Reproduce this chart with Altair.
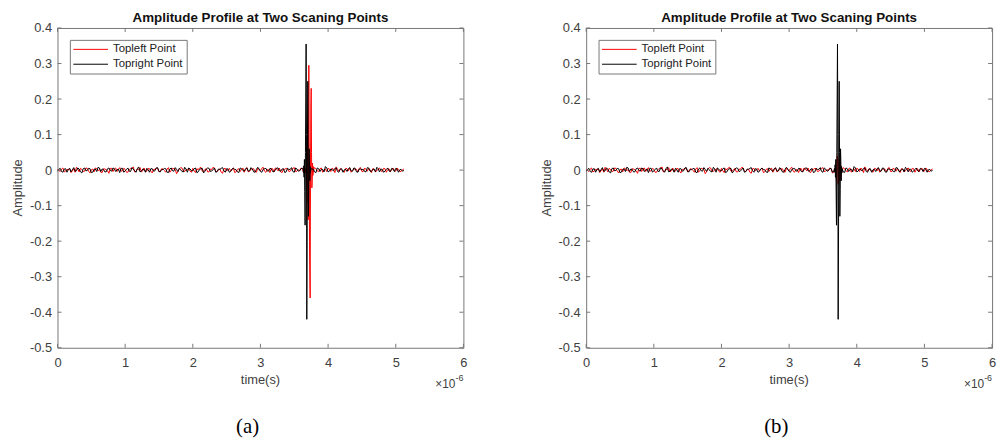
import altair as alt
import pandas as pd
import numpy as np

# ---------------- data ----------------
SERIES = ["Topleft Point", "Topright Point"]
COLORS = ["#ff0000", "#000000"]
TITLE = "Amplitude Profile at Two Scaning Points"
CAPTIONS = ["(a)", "(b)"]
X_TICKS = [0, 1, 2, 3, 4, 5, 6]
Y_TICKS = [-0.5, -0.4, -0.3, -0.2, -0.1, 0, 0.1, 0.2, 0.3, 0.4]

NOISE_STEP = 0.02   # time step of background samples (x 1e-6 s)
BURST_STEP = 0.005  # time step of burst samples (x 1e-6 s)

# background samples at even grid points
RED_NOISE = [
    0.002, -0.004, 0.006, -0.003, 0.001, -0.007, 0.004, 0.008, -0.005, 0.002,
    -0.003, 0.005, -0.008, 0.003, 0.006, -0.002, -0.006, 0.004, 0.001, -0.009,
    0.005, 0.003, -0.004, 0.007, -0.002, 0.002, -0.006, 0.005, 0.009, -0.004,
    0.001, -0.005, 0.006, -0.003, 0.004, -0.008, 0.002, 0.005, -0.002, 0.003,
    -0.006, 0.007, -0.001, 0.004, -0.010, 0.003, 0.006, -0.004, 0.002, -0.003,
    0.005, -0.007, 0.001, 0.008, -0.003, 0.004, -0.005, 0.002, 0.006, -0.004,
    0.003, -0.009, 0.005, 0.001, -0.002, 0.006, -0.005, 0.004, 0.002, -0.006,
    0.007, -0.003, 0.003, -0.004, 0.005, -0.002, 0.008, -0.006, 0.001, 0.004,
    -0.005, 0.003, 0.006, -0.007, 0.002, 0.004, -0.003, 0.005, -0.004, 0.001,
    0.006, -0.008, 0.003, 0.002, -0.005, 0.007, -0.002, 0.004, -0.006, 0.003,
    0.005, -0.004, 0.002, 0.009, -0.003, 0.001, -0.006, 0.004, 0.006, -0.002,
    0.003, -0.005, 0.007, -0.004, 0.002, 0.005, -0.007, 0.003, -0.002, 0.006,
    -0.004, 0.004, 0.001, -0.005, 0.006, -0.003, 0.002, -0.004, 0.003,
]
# background samples at odd grid points
RED_NOISE_MID = [
    -0.001, 0.003, -0.005, 0.002, 0.004, -0.002, -0.006, 0.003, 0.005, -0.004,
    0.006, -0.003, 0.001, -0.005, 0.004, 0.002, -0.007, 0.003, -0.002, 0.005,
    -0.004, 0.006, 0.002, -0.003, 0.005, -0.006, 0.001, 0.004, -0.005, 0.003,
    0.007, -0.002, -0.004, 0.005, -0.003, 0.002, 0.006, -0.005, 0.004, -0.001,
    0.003, -0.006, 0.005, 0.002, -0.004, 0.007, -0.003, 0.001, 0.005, -0.006,
    -0.002, 0.004, 0.006, -0.003, 0.002, -0.005, 0.003, 0.008, -0.004, 0.001,
    -0.006, 0.004, -0.002, 0.005, 0.003, -0.007, 0.002, -0.004, 0.006, 0.001,
    -0.005, 0.003, 0.004, -0.006, 0.002, 0.005, -0.003, 0.001, -0.007, 0.004,
    0.006, -0.002, -0.005, 0.003, 0.005, -0.004, 0.002, 0.007, -0.003, -0.001,
    0.004, -0.006, 0.002, 0.005, -0.003, 0.004, -0.005, 0.006, 0.001, -0.004,
    0.003, 0.006, -0.007, 0.002, 0.004, -0.003, 0.005, -0.002, -0.006, 0.003,
    0.002, 0.005, -0.004, 0.006, -0.003, 0.001, 0.004, -0.005, 0.003, -0.002,
    0.005, -0.006, 0.004, 0.002, -0.003, 0.006, -0.004, 0.001,
]
BLACK_NOISE = [
    -0.003, 0.005, -0.006, 0.004, 0.002, -0.005, 0.007, -0.002, 0.003, -0.008,
    0.006, -0.001, 0.004, -0.006, 0.003, 0.008, -0.004, 0.002, -0.005, 0.006,
    -0.003, 0.004, 0.001, -0.007, 0.005, -0.002, 0.006, -0.004, 0.003, -0.006,
    0.009, -0.003, 0.002, 0.005, -0.006, 0.004, -0.002, 0.007, -0.005, 0.001,
    0.004, -0.007, 0.006, -0.003, 0.002, 0.005, -0.004, 0.008, -0.006, 0.003,
    -0.002, 0.006, -0.005, 0.004, -0.008, 0.003, 0.005, -0.002, 0.006, -0.004,
    0.002, 0.007, -0.006, 0.003, -0.004, 0.005, 0.001, -0.007, 0.004, -0.003,
    0.006, -0.002, 0.003, -0.006, 0.008, -0.004, 0.002, 0.005, -0.003, 0.004,
    -0.005, 0.006, -0.002, 0.003, -0.007, 0.005, 0.002, -0.004, 0.006, -0.003,
    0.004, -0.006, 0.007, -0.002, 0.003, -0.005, 0.006, -0.004, 0.002, 0.010,
    -0.005, 0.003, -0.002, 0.006, -0.006, 0.004, 0.001, -0.004, 0.007, -0.003,
    0.005, -0.006, 0.003, 0.002, -0.005, 0.006, -0.004, 0.003, 0.008, -0.005,
    0.002, -0.003, 0.006, -0.004, 0.003, 0.005, -0.006, 0.002, -0.001,
]
BLACK_NOISE_MID = [
    0.002, -0.004, 0.003, -0.006, 0.005, 0.001, -0.003, 0.006, -0.005, 0.004,
    -0.002, 0.005, -0.007, 0.002, -0.004, 0.006, 0.003, -0.005, 0.004, -0.001,
    0.006, -0.004, 0.003, 0.005, -0.006, 0.002, -0.003, 0.007, -0.002, 0.004,
    -0.005, 0.003, -0.006, 0.001, 0.004, -0.003, 0.006, -0.004, 0.002, 0.005,
    -0.006, 0.003, -0.002, 0.007, -0.004, 0.001, -0.005, 0.003, 0.006, -0.002,
    0.004, -0.007, 0.002, 0.005, -0.003, 0.006, -0.004, 0.001, -0.006, 0.003,
    0.005, -0.002, 0.004, -0.006, 0.003, 0.002, -0.005, 0.006, -0.001, 0.004,
    -0.003, 0.007, -0.005, 0.002, 0.003, -0.006, 0.004, -0.002, 0.005, -0.004,
    0.001, 0.006, -0.003, 0.004, -0.005, 0.002, 0.007, -0.006, 0.003, -0.002,
    0.005, -0.004, 0.006, -0.001, 0.003, -0.007, 0.004, 0.002, -0.005, 0.006,
    -0.003, 0.001, 0.005, -0.004, 0.003, -0.006, 0.002, 0.004, -0.002, 0.006,
    -0.005, 0.003, 0.001, -0.004, 0.007, -0.003, 0.002, -0.005, 0.004, 0.003,
    -0.006, 0.002, -0.002, 0.005, -0.004, 0.003, 0.001, -0.003,
]

# panel (a)
A_RED_START = 3.670
A_RED_BURST = [0.004, -0.008, 0.015, -0.03, 0.06, -0.09, 0.12, -0.14, 0.10,
               0.295, 0.08, -0.20, -0.30, -0.36, 0.0, 0.18, 0.23, 0.05, -0.05,
               -0.03, 0.02, -0.015, 0.01, -0.006, 0.003]
A_BLACK_START = 3.630
A_BLACK_BURST = [0.004, -0.006, 0.012, -0.02, 0.03, -0.06, -0.155, 0.05, 0.20,
                 0.355, 0.10, -0.42, -0.20, 0.10, 0.25, 0.05, -0.13, -0.05,
                 0.06, 0.02, -0.03, 0.01, -0.008, 0.004]
# panel (b)
B_RED_START = 3.670
B_RED_BURST = [0.003, -0.004, 0.006, -0.008, 0.01, -0.015, -0.03, 0.01, 0.03,
               0.04, 0.01, -0.04, -0.02, 0.01, 0.03, 0.01, -0.03, -0.02, 0.015,
               0.006, -0.006, 0.004, -0.003]
B_BLACK_START = 3.670
B_BLACK_BURST = [0.004, -0.006, 0.015, -0.02, 0.03, -0.06, -0.155, 0.05, 0.20,
                 0.355, 0.10, -0.42, -0.20, 0.10, 0.25, 0.05, -0.13, -0.055,
                 0.06, 0.02, -0.03, 0.01, -0.008, 0.004]

# ---------------- style ----------------
W, H = 410, 323
FONT = "Liberation Sans"
TXT = "#404040"
BOX = "#777777"


def build(noise_even, noise_odd, start, burst):
    vals = []
    for i in range(len(noise_even)):
        vals.append(noise_even[i])
        if i < len(noise_odd):
            vals.append(noise_odd[i])
    v_noise = np.array(vals)
    t_noise = np.arange(len(v_noise)) * NOISE_STEP
    end = start + (len(burst) - 1) * BURST_STEP
    keep = (t_noise < start) | (t_noise > end)
    t_b = start + np.arange(len(burst)) * BURST_STEP
    t = np.concatenate([t_noise[keep], t_b])
    v = np.concatenate([v_noise[keep], np.array(burst)])
    idx = np.argsort(t)
    return pd.DataFrame({"t": t[idx], "amp": v[idx]})


def one_row():
    return pd.DataFrame({"k": [0]})


def txt(text, x, y, size=13, color=TXT, weight="normal", align="center",
        baseline="middle", angle=0, font=FONT):
    kw = dict(text=text, fontSize=size, color=color, fontWeight=weight,
              align=align, baseline=baseline, font=font)
    if angle:
        kw["angle"] = angle
    return alt.Chart(one_row()).mark_text(**kw).encode(
        x=alt.value(x), y=alt.value(y))


def panel(red_df, black_df, caption):
    xs = alt.Scale(domain=[0, 6], nice=False, zero=False)
    ys = alt.Scale(domain=[-0.5, 0.4], nice=False, zero=False)
    xaxis = alt.Axis(values=X_TICKS, ticks=False, domain=False, grid=False,
                     labelPadding=15, labelBaseline="middle", labelFlush=False,
                     labelOverlap=False, title=None, format="d",
                     labelFont=FONT, labelFontSize=13, labelColor=TXT)
    yaxis = alt.Axis(values=Y_TICKS, ticks=False, domain=False, grid=False,
                     labelPadding=6, labelFlush=False, labelOverlap=False,
                     title=None, labelFont=FONT, labelFontSize=13,
                     labelColor=TXT,
                     labelExpr="datum.value == 0 ? '0' : (datum.value < 0 ? '-' + format(-datum.value, '.1f') : format(datum.value, '.1f'))")
    X = lambda f: alt.X(f, scale=xs, axis=xaxis)
    Y = lambda f: alt.Y(f, scale=ys, axis=yaxis)

    layers = []
    for df, c in zip([red_df, black_df], COLORS):
        layers.append(alt.Chart(df).mark_line(color=c, strokeWidth=1).encode(
            x=X("t:Q"), y=Y("amp:Q")))

    xt = pd.DataFrame({"v": X_TICKS})
    yt = pd.DataFrame({"v": Y_TICKS})
    layers.append(alt.Chart(xt).mark_rule(color=BOX).encode(
        x=X("v:Q"), y=alt.value(H), y2=alt.value(H - 4)))
    layers.append(alt.Chart(xt).mark_rule(color=BOX).encode(
        x=X("v:Q"), y=alt.value(0), y2=alt.value(4)))
    layers.append(alt.Chart(yt).mark_rule(color=BOX).encode(
        y=Y("v:Q"), x=alt.value(0), x2=alt.value(4)))
    layers.append(alt.Chart(yt).mark_rule(color=BOX).encode(
        y=Y("v:Q"), x=alt.value(W - 4), x2=alt.value(W)))

    # legend box
    layers.append(alt.Chart(one_row()).mark_rect(
        fill="white", stroke=BOX, strokeWidth=1).encode(
        x=alt.value(13), x2=alt.value(131), y=alt.value(12.5), y2=alt.value(46.5)))
    for i, (name, c) in enumerate(zip(SERIES, COLORS)):
        yy = 21.6 + 15 * i
        layers.append(alt.Chart(one_row()).mark_rule(color=c, strokeWidth=1).encode(
            x=alt.value(16), x2=alt.value(51), y=alt.value(yy)))
        layers.append(txt(name, 56, yy, size=11.5, color="#222222", align="left"))

    # texts
    layers.append(txt(TITLE, W / 2, -10.5, size=13.5, color="#111111", weight="bold"))
    layers.append(txt("Amplitude", -39.5, H / 2, size=13, angle=270))
    layers.append(txt("time(s)", W / 2, H + 33, size=13))
    layers.append(txt("\u00d710", 402, H + 37, size=12, align="right"))
    layers.append(txt("-6", 402, H + 31, size=9, align="left"))
    layers.append(txt(caption, 192, H + 80, size=21, color="#000000",
                      font="Liberation Serif"))

    return alt.layer(*layers).properties(width=W, height=H)


pa = panel(build(RED_NOISE, RED_NOISE_MID, A_RED_START, A_RED_BURST),
           build(BLACK_NOISE, BLACK_NOISE_MID, A_BLACK_START, A_BLACK_BURST),
           CAPTIONS[0])
pb = panel(build(RED_NOISE, RED_NOISE_MID, B_RED_START, B_RED_BURST),
           build(BLACK_NOISE, BLACK_NOISE_MID, B_BLACK_START, B_BLACK_BURST),
           CAPTIONS[1])

chart = alt.hconcat(pa, pb, spacing=73).configure_view(
    stroke=BOX, strokeWidth=1).properties(
    padding={"left": 4, "top": 0, "right": 2, "bottom": 2},
    background="white")

chart.save("out.html", embed_options={"renderer": "svg", "actions": False})
